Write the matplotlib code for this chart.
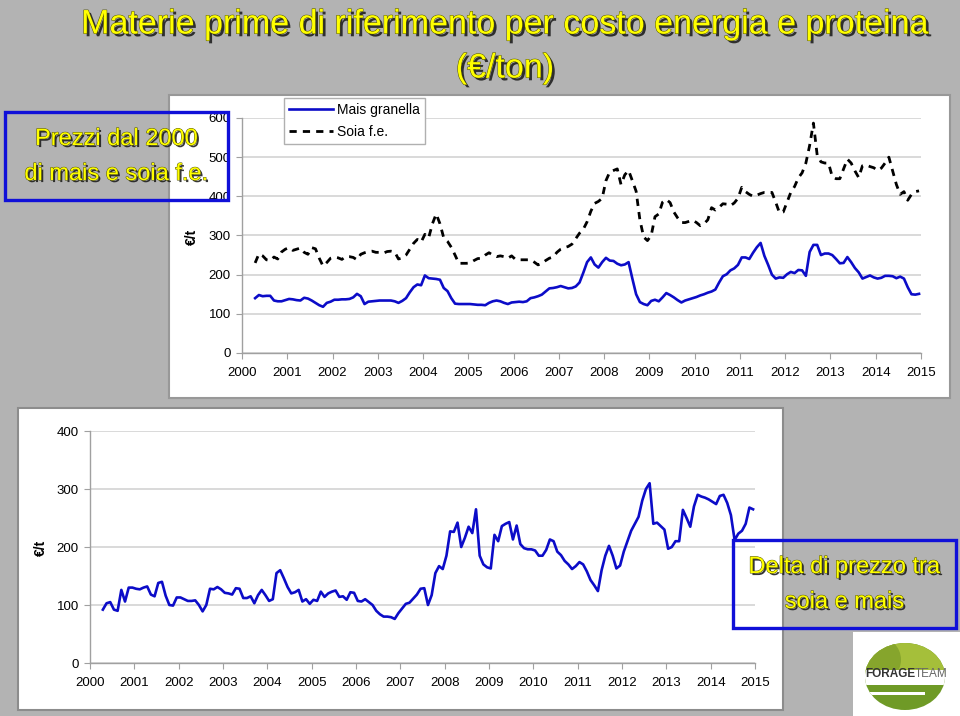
"""
Materie prime di riferimento: prezzi di mais e soia f.e. dal 2000
e delta di prezzo tra soia e mais.
"""

import matplotlib
matplotlib.use("Agg")
import matplotlib.pyplot as plt
import matplotlib.patheffects as pe
from matplotlib.patches import Rectangle, Ellipse

# Monthly values from Apr 2000 to Dec 2014 (EUR/t)
MAIS = [
    140, 148, 145, 146, 146, 134, 132, 132, 135, 138, 137, 135,
    134, 141, 139, 134, 128, 122, 118, 128, 131, 136, 136, 137,
    137, 138, 142, 151, 145, 125, 131, 132, 133, 134, 134, 134,
    134, 132, 128, 133, 140, 155, 168, 175, 173, 198, 191, 190,
    189, 187, 166, 158, 140, 126, 125, 125, 125, 125, 124, 123,
    123, 122, 128, 132, 134, 132, 128, 125, 129, 130, 131, 130,
    132, 140, 142, 145, 149, 157, 165, 166, 168, 171, 168, 165,
    166, 170, 180, 205, 232, 244, 226, 218, 232, 243, 236, 235,
    228, 224, 226, 232, 190, 150, 130, 125, 122, 133, 136, 132,
    142, 153, 148, 142, 135, 129, 134, 137, 140, 143, 147, 150,
    154, 157, 162, 180, 196, 201, 211, 216, 225, 244, 244, 240,
    256, 270, 281, 248, 225, 200, 190, 193, 192, 201, 207, 204,
    212, 211, 197, 258, 276, 276, 250, 254, 254, 250, 240, 229,
    230, 245, 232, 217, 206, 190, 194, 198, 193, 190, 192, 197,
    197, 196, 191, 195, 190, 168, 150, 149, 151,
]

SOIA = [
    230, 253, 248, 238, 236, 245, 240, 258, 265, 269, 262, 265,
    268, 257, 252, 269, 266, 242, 222, 231, 242, 245, 243, 239,
    246, 246, 244, 238, 252, 256, 259, 260, 257, 257, 255, 259,
    260, 258, 240, 243, 250, 265, 280, 290, 283, 303, 294, 330,
    355, 330, 294, 285, 270, 250, 229, 229, 229, 230, 236, 241,
    242, 250, 256, 250, 246, 248, 246, 242, 248, 239, 238, 238,
    238, 238, 232, 225, 229, 236, 242, 245, 257, 265, 269, 272,
    278, 292, 306, 316, 335, 362, 382, 387, 395, 440, 462, 466,
    470, 430, 455, 466, 440, 413, 340, 296, 287, 300, 348, 355,
    385, 392, 384, 360, 345, 333, 333, 336, 339, 333, 325, 330,
    340, 371, 365, 372, 381, 380, 376, 383, 395, 423, 412, 405,
    400, 403, 407, 410, 410, 410, 385, 358, 360, 385, 410, 425,
    447, 460, 485, 530, 587, 505, 488, 485, 485, 450, 445, 445,
    470, 495, 485, 465, 448, 478, 480, 476, 473, 466, 472, 485,
    500, 465, 430, 405, 412, 390, 405, 412, 414,
]

DELTA = [
    92, 103, 105, 92, 90, 126, 106, 130, 130, 128, 127, 130,
    132, 118, 115, 138, 140, 116, 100, 99, 113, 113, 110, 107,
    107, 108, 100, 89, 100, 128, 127, 131, 127, 121, 120, 118,
    129, 128, 112, 112, 115, 103, 117, 126, 117, 107, 110, 155,
    160, 146, 131, 120, 122, 126, 106, 110, 102, 109, 107, 123,
    114, 120, 123, 125, 114, 115, 109, 122, 121, 107, 106, 110,
    105, 100, 90, 84, 80, 80, 79, 76, 86, 94, 102, 104,
    111, 118, 128, 129, 100, 117, 155, 167, 162, 185, 227, 226,
    242, 200, 216, 235, 224, 265, 185, 170, 165, 163, 221, 210,
    236, 240, 243, 213, 237, 205, 198, 196, 196, 194, 185, 185,
    195, 213, 210, 192, 186, 176, 170, 162, 167, 174, 170, 158,
    143, 134, 124, 160, 185, 202, 185, 163, 168, 192, 210, 228,
    240, 252, 280, 300, 310, 240, 242, 236, 230, 197, 200, 210,
    210, 264, 250, 235, 270, 290, 287, 285, 282, 278, 274, 288,
    290, 276, 255, 212, 223, 228, 240, 268, 265,
]

YEARS = list(range(2000, 2016))
START = 2000.29  # first month (Apr 2000) on the decimal-year axis

TITLE = "Materie prime di riferimento per costo energia e proteina"
SUBTITLE = "(€/ton)"

W, H = 960, 716
BG = "#b3b3b3"
BLUE = "#0c0cc8"
YELLOW = "#ffff00"
FONT = ["Liberation Sans", "DejaVu Sans"]

plt.rcParams["font.family"] = FONT


def fx(x):
    return x / W


def fy(y):
    return 1 - y / H


def rect(x0, y0, x1, y1):
    """Figure-fraction rect from pixel corners (top-left origin)."""
    return [fx(x0), fy(y1), fx(x1) - fx(x0), fy(y0) - fy(y1)]


def style_axes(ax, ymax, ystep):
    ax.set_facecolor("none")
    ax.set_xlim(2000, 2015)
    ax.set_ylim(0, ymax)
    ax.set_xticks(YEARS)
    ax.set_yticks(range(0, ymax + 1, ystep))
    for s in ["top", "right"]:
        ax.spines[s].set_visible(False)
    for s in ["left", "bottom"]:
        ax.spines[s].set_color("#a0a0a0")
        ax.spines[s].set_linewidth(1.0)
    ax.tick_params(axis="x", direction="out", length=4, color="#a0a0a0",
                   labelsize=9.5, pad=6)
    ax.tick_params(axis="y", direction="out", length=4, color="#a0a0a0",
                   labelsize=9.5, pad=4)
    ax.yaxis.grid(True, color="#cfcfcf", linewidth=1.1)
    ax.set_axisbelow(True)


def shadow_effects(offset=2):
    return [pe.SimplePatchShadow(offset=(offset, -offset), shadow_rgbFace="#202020", alpha=0.9),
            pe.Stroke(linewidth=0.7, foreground="#505000"),
            pe.Normal()]


fig = plt.figure(figsize=(9.6, 7.16), dpi=100, facecolor=BG)

# White panels behind the two charts
fig.patches.append(Rectangle((fx(169), fy(398)), fx(950) - fx(169), fy(95) - fy(398),
                             transform=fig.transFigure, facecolor="white",
                             edgecolor="#989898", linewidth=1.5, zorder=-5))
fig.patches.append(Rectangle((fx(18), fy(710)), fx(783) - fx(18), fy(408) - fy(710),
                             transform=fig.transFigure, facecolor="white",
                             edgecolor="#8c8c8c", linewidth=1.5, zorder=-5))

months = [START + i / 12 for i in range(len(MAIS))]

# Top chart: prices
ax1 = fig.add_axes(rect(242, 118, 921, 353))
style_axes(ax1, 600, 100)
ax1.plot(months, MAIS, color=BLUE, linewidth=1.9, label="Mais granella")
ax1.plot(months, SOIA, color="black", linewidth=2.0, linestyle=(0, (2.6, 2.2)),
         label="Soia f.e.")
fig.text(fx(192), fy(237), "€/t", rotation=90, ha="center", va="center",
         fontsize=10, fontweight="bold")
ax1.legend(loc="upper left", bbox_to_anchor=(fx(284), fy(98)),
           bbox_transform=fig.transFigure, borderaxespad=0, fontsize=10,
           frameon=True, fancybox=False, framealpha=1, edgecolor="#b0b0b0",
           handlelength=3.2, handletextpad=0.3, labelspacing=0.6, borderpad=0.35)

# Bottom chart: delta soia - mais
months_d = [START + i / 12 for i in range(len(DELTA))]
ax2 = fig.add_axes(rect(90, 431, 755, 663))
style_axes(ax2, 400, 100)
ax2.plot(months_d, DELTA, color=BLUE, linewidth=1.9)
fig.text(fx(41), fy(548), "€/t", rotation=90, ha="center", va="center",
         fontsize=10, fontweight="bold")

# Title
fig.text(fx(505), fy(25), TITLE, ha="center", va="center", fontsize=24.5,
         color=YELLOW, path_effects=shadow_effects(2), zorder=10)
fig.text(fx(505), fy(69), SUBTITLE, ha="center", va="center", fontsize=24.5,
         color=YELLOW, path_effects=shadow_effects(2), zorder=10)

# Annotation boxes
for (x0, y0, x1, y1), lines in [((5, 112, 228, 200), ["Prezzi dal 2000", "di mais e soia f.e."]),
                                ((733, 540, 956, 628), ["Delta di prezzo tra", "soia e mais"])]:
    fig.patches.append(Rectangle((fx(x0), fy(y1)), fx(x1) - fx(x0), fy(y0) - fy(y1),
                                 transform=fig.transFigure, facecolor="none",
                                 edgecolor="#1010d8", linewidth=2.4, zorder=10))
    cx = (x0 + x1) / 2
    cy = (y0 + y1) / 2
    fig.text(fx(cx), fy(cy - 17), lines[0], ha="center", va="center", fontsize=17,
             color=YELLOW, path_effects=shadow_effects(1.5), zorder=11)
    fig.text(fx(cx), fy(cy + 18), lines[1], ha="center", va="center", fontsize=17,
             color=YELLOW, path_effects=shadow_effects(1.5), zorder=11)

# Logo
fig.patches.append(Rectangle((fx(853), fy(716)), fx(960) - fx(853), fy(632) - fy(716),
                             transform=fig.transFigure, facecolor="white",
                             edgecolor="none", zorder=-4))
logo = fig.add_axes(rect(865, 643, 945, 710))
logo.set_zorder(2)
logo.set_xlim(0, 1)
logo.set_ylim(0, 1)
logo.axis("off")
ell = Ellipse((0.5, 0.5), 1, 1, facecolor="#6f9a26", edgecolor="none")
logo.add_patch(ell)
top = Rectangle((0, 0.5), 1, 0.5, facecolor="#a5bf3a", edgecolor="none")
top.set_clip_path(ell)
logo.add_patch(top)
dark = Ellipse((0.15, 0.75), 0.6, 0.7, facecolor="#86a52c", edgecolor="none")
dark.set_clip_path(ell)
logo.add_patch(dark)
band = Rectangle((0, 0.38), 1, 0.22, facecolor="white", edgecolor="none")
band.set_clip_path(ell)
logo.add_patch(band)
stripe = Rectangle((0.05, 0.22), 0.7, 0.05, facecolor="white", edgecolor="none")
stripe.set_clip_path(ell)
logo.add_patch(stripe)
fig.text(fx(915), fy(674), "FORAGE", ha="right", va="center", fontsize=8.5,
         fontweight="bold", color="#333333", zorder=12)
fig.text(fx(915), fy(674), "TEAM", ha="left", va="center", fontsize=8.5,
         color="#666666", zorder=12)

fig.savefig("out.png", dpi=100, facecolor=BG)
